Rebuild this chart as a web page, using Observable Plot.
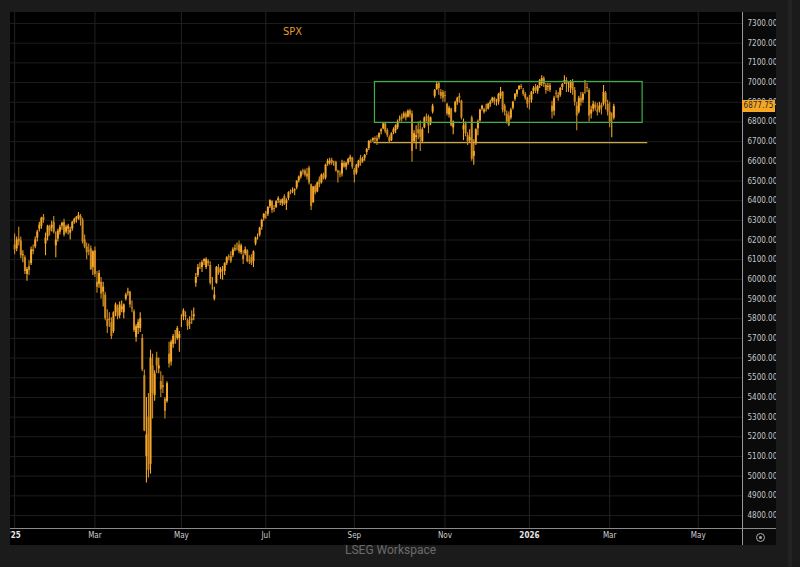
<!DOCTYPE html>
<html>
<head>
<meta charset="utf-8">
<script src="https://cdn.jsdelivr.net/npm/d3@7"></script>
<script src="https://cdn.jsdelivr.net/npm/@observablehq/plot@0.6"></script>
<style>
html,body{margin:0;padding:0;background:#1b1b1b;width:800px;height:567px;overflow:hidden;}
#panel{position:absolute;left:10px;top:12px;width:766px;height:533px;background:#000;overflow:hidden;}
#axiscol{position:absolute;left:732px;top:0;width:34px;height:533px;background:#0a0a0a;}
#chart{position:absolute;left:-10px;top:-12px;width:800px;height:567px;}
#chart svg{max-width:none !important;}
#vline{position:absolute;left:742px;top:12px;width:1px;height:533px;background:#9a9a9a;}
#hline{position:absolute;left:10px;top:528px;width:766px;height:1px;background:#8a8a8a;}
#title{position:absolute;left:283px;top:25px;color:#e59a2e;font:11px "Liberation Sans Narrow","DejaVu Sans Condensed",sans-serif;}
#footer{position:absolute;left:345px;top:543px;color:#6b6b6b;font:12px Roboto,"Open Sans",sans-serif;}
#price{position:absolute;left:742px;width:33px;height:12px;background:#f5a623;color:#2a2a2a;font:8px "Liberation Sans Narrow","DejaVu Sans Condensed",sans-serif;line-height:12px;text-align:center;white-space:nowrap;overflow:hidden;}
#icon{position:absolute;left:756px;top:533px;width:7px;height:7px;border:1px solid #aaa;border-radius:50%;}
#icon:after{content:"";position:absolute;left:2px;top:2px;width:3px;height:3px;border-radius:50%;background:#aaa;}
#rstrip{position:absolute;left:788px;top:0;width:4px;height:567px;background:#232323;}
</style>
</head>
<body>
<div id="panel"><div id="axiscol"></div><div id="chart"></div></div>
<div id="vline"></div>
<div id="hline"></div>
<div id="rstrip"></div>
<div id="title">SPX</div>
<div id="footer">LSEG Workspace</div>
<div id="icon"></div>
<script>
// Daily candles, trading-day index 0 = 2 Jan 2025
const open = [
6175,6155,6205,6195,6120,6110,6025,6065,6080,6150,
6165,6210,6255,6270,6315,6180,6215,6265,6260,6290,
6170,6205,6240,6270,6290,6240,6255,6235,6255,6290,
6305,6310,6320,6300,6200,6165,6145,6155,6060,6145,
5985,5975,5985,5935,5920,5795,5800,5780,5735,5830,
5855,5815,5845,5830,5900,5930,5935,5855,5835,5705,
5750,5750,5700,5510,5100,5300,5060,5560,5410,5600,
5545,5480,5460,5390,5380,5620,5580,5670,5720,5700,
5700,5780,5810,5815,5790,5775,5800,5810,5980,6020,
6070,6060,6090,6060,6090,6070,5975,5900,5980,6060,
6035,6050,6040,6080,6115,6115,6120,6150,6160,6175,
6135,6120,6130,6145,6095,6110,6090,6180,6215,6225,
6265,6310,6330,6330,6370,6395,6360,6365,6400,6390,
6385,6420,6385,6410,6445,6445,6450,6465,6500,6520,
6550,6550,6535,6565,6480,6390,6470,6445,6505,6490,
6530,6515,6585,6590,6605,6590,6595,6550,6535,6535,
6590,6570,6590,6610,6615,6555,6540,6575,6615,6600,
6615,6645,6665,6700,6705,6715,6715,6720,6750,6765,
6790,6755,6720,6705,6745,6755,6770,6810,6825,6825,
6840,6825,6855,6840,6700,6720,6760,6760,6700,6770,
6825,6825,6790,6850,6930,6965,6995,6950,6950,6935,
6890,6835,6865,6770,6850,6900,6930,6905,6760,6790,
6730,6705,6820,6625,6690,6765,6805,6865,6850,6870,
6865,6890,6905,6920,6900,6900,6930,6950,6880,6840,
6830,6820,6870,6915,6940,6965,6980,6960,6940,6920,
6905,6910,6955,6975,6955,6985,6995,7020,6985,6975,
6985,6880,6855,6945,6935,6935,6975,7000,7010,6980,
6970,7005,6960,6880,6850,6920,6910,6960,6975,6960,
6840,6865,6885,6860,6860,6885,6890,6945,6890,6850,
6790,6820];
const high = [
6230,6215,6265,6215,6145,6120,6060,6095,6165,6175,
6215,6250,6290,6315,6330,6235,6275,6275,6295,6320,
6240,6255,6275,6290,6305,6275,6280,6265,6295,6310,
6320,6340,6330,6310,6225,6185,6180,6170,6145,6165,
6040,6045,6010,5985,5935,5845,5830,5805,5835,5880,
5870,5885,5890,5875,5930,5955,5940,5890,5845,5770,
5795,5830,5720,5540,5400,5420,5640,5620,5535,5630,
5600,5530,5510,5400,5480,5680,5690,5720,5740,5760,
5735,5820,5850,5835,5800,5810,5840,5855,6030,6075,
6085,6095,6105,6110,6100,6090,6010,5960,6065,6075,
6060,6065,6085,6115,6125,6140,6160,6175,6185,6195,
6180,6145,6165,6150,6120,6125,6145,6215,6230,6265,
6305,6335,6345,6370,6405,6400,6375,6400,6420,6405,
6410,6430,6410,6445,6455,6465,6460,6500,6525,6550,
6560,6560,6565,6575,6485,6470,6480,6495,6520,6535,
6540,6585,6610,6615,6615,6600,6600,6555,6550,6605,
6600,6595,6615,6630,6620,6565,6585,6605,6630,6620,
6635,6665,6705,6710,6720,6725,6730,6745,6765,6795,
6795,6765,6730,6745,6770,6785,6810,6830,6840,6850,
6850,6860,6865,6855,6755,6780,6800,6805,6770,6825,
6840,6835,6825,6890,6965,7005,7000,6965,6960,6955,
6895,6880,6870,6805,6905,6925,6945,6910,6815,6800,
6745,6760,6830,6710,6765,6810,6865,6885,6870,6890,
6895,6910,6925,6925,6915,6945,6975,6955,6890,6855,
6850,6870,6905,6945,6965,6985,6990,6970,6950,6925,
6935,6955,6980,6990,6985,7015,7035,7030,6995,6995,
6995,6905,6930,6960,6950,6975,6995,7035,7025,7000,
7010,7015,6975,6900,6930,6950,6950,7010,6995,6970,
6880,6905,6900,6895,6900,6895,6985,6955,6910,6900,
6845,6890];
const low = [
6125,6140,6170,6105,6085,6025,5990,6020,6070,6125,
6155,6190,6240,6255,6285,6120,6195,6220,6240,6230,
6110,6190,6225,6250,6215,6230,6225,6200,6245,6280,
6285,6300,6270,6180,6155,6100,6120,6045,6020,6010,
5930,5955,5900,5860,5790,5725,5755,5695,5725,5810,
5795,5800,5830,5800,5890,5915,5855,5830,5730,5680,
5720,5730,5530,5225,4965,4990,5010,5290,5380,5520,
5520,5400,5420,5290,5370,5550,5560,5650,5670,5690,
5630,5755,5790,5790,5740,5745,5770,5790,5960,6010,
6050,6035,6070,6050,6065,5970,5945,5890,5975,6020,
6000,5995,6020,6070,6095,6080,6110,6140,6145,6130,
6125,6075,6120,6085,6075,6070,6060,6170,6200,6215,
6250,6295,6305,6320,6360,6335,6340,6360,6385,6375,
6370,6375,6350,6400,6430,6435,6425,6455,6490,6510,
6530,6520,6505,6480,6350,6385,6430,6440,6465,6485,
6505,6505,6575,6580,6580,6575,6545,6490,6515,6520,
6565,6555,6580,6595,6560,6490,6530,6565,6575,6590,
6600,6630,6655,6690,6695,6695,6680,6710,6735,6760,
6740,6720,6690,6700,6735,6740,6760,6800,6800,6815,
6805,6820,6820,6595,6690,6660,6710,6650,6690,6765,
6800,6740,6780,6840,6920,6960,6935,6915,6900,6900,
6830,6820,6775,6735,6845,6885,6895,6810,6705,6725,
6680,6690,6600,6580,6680,6730,6800,6855,6840,6850,
6860,6875,6895,6885,6880,6885,6915,6845,6830,6790,
6775,6810,6860,6905,6925,6960,6965,6930,6910,6870,
6860,6895,6940,6945,6940,6970,6980,6975,6940,6955,
6950,6815,6830,6920,6905,6925,6960,6990,6950,6950,
6945,6935,6880,6755,6840,6880,6895,6940,6950,6800,
6815,6850,6855,6830,6845,6835,6880,6860,6830,6770,
6720,6810];
const close = [
6150,6200,6190,6120,6125,6040,6050,6045,6150,6140,
6200,6240,6275,6310,6300,6210,6270,6245,6275,6240,
6200,6245,6265,6285,6225,6265,6270,6250,6290,6305,
6315,6325,6300,6190,6165,6135,6140,6050,6140,6025,
5960,6030,5925,5960,5800,5760,5790,5710,5830,5870,
5810,5870,5860,5870,5920,5935,5870,5850,5740,5760,
5780,5800,5540,5230,5210,5030,5600,5420,5520,5560,
5560,5440,5450,5330,5470,5570,5680,5710,5720,5750,
5720,5780,5840,5810,5760,5780,5790,5820,6010,6060,
6070,6085,6100,6100,6080,5980,5975,5920,6060,6030,
6050,6050,6080,6110,6110,6090,6150,6155,6160,6140,
6170,6100,6150,6090,6090,6080,6140,6210,6215,6260,
6300,6330,6330,6365,6400,6350,6355,6395,6410,6395,
6405,6380,6400,6440,6440,6450,6455,6500,6520,6545,
6545,6530,6520,6490,6370,6470,6440,6490,6480,6530,
6510,6580,6600,6600,6590,6590,6550,6540,6530,6590,
6570,6590,6610,6620,6570,6530,6580,6600,6590,6610,
6630,6660,6700,6700,6715,6710,6700,6740,6760,6790,
6750,6730,6700,6740,6760,6780,6800,6815,6815,6840,
6820,6855,6835,6650,6740,6730,6740,6720,6760,6820,
6820,6780,6820,6880,6960,6990,6970,6930,6920,6930,
6840,6870,6780,6800,6900,6920,6920,6820,6780,6740,
6700,6720,6610,6650,6760,6800,6860,6880,6860,6870,
6890,6900,6920,6900,6900,6940,6950,6860,6850,6800,
6780,6860,6900,6940,6960,6980,6975,6940,6920,6890,
6900,6950,6970,6960,6980,7010,7020,6990,6960,6980,
6960,6850,6920,6940,6920,6970,6990,7010,6990,6980,
7000,6960,6900,6830,6920,6900,6940,6960,6970,6830,
6860,6890,6870,6850,6880,6870,6950,6900,6850,6800,
6790,6877.75];

// x-axis ticks (trading-day index of first session of each month) and labels
const tickIdx = [0, 39, 81, 122, 165, 209, 250, 289, 332];
const tickLabels = ["'25", "Mar", "May", "Jul", "Sep", "Nov", "2026", "Mar", "May"];
const yearLabels = ["'25", "2026"];
// y-axis tick values
const yTicks = [4800,4900,5000,5100,5200,5300,5400,5500,5600,5700,5800,5900,6000,
                6100,6200,6300,6400,6500,6600,6700,6800,6900,7000,7100,7200,7300];
// annotations: consolidation box and support level
const boxStart = [175], boxEnd = [305], boxLow = [6795], boxHigh = [7003];
const levelValue = [6695], levelStart = [174.5], levelEnd = [307.5];
// scale extents
const xDomain = [-2, 353.5];
const yDomain = [4734, 7356];

const candles = close.map((c, i) => ({i, open: open[i], high: high[i], low: low[i], close: c}));
const ups = candles.filter(d => d.close >= d.open);
const downs = candles.filter(d => d.close < d.open);
const ticks = tickIdx.map((t, k) => ({i: t, label: tickLabels[k]}));
const boxes = boxStart.map((s, k) => ({start: s, end: boxEnd[k], low: boxLow[k], high: boxHigh[k]}));
const levels = levelValue.map((v, k) => ({level: v, start: levelStart[k], end: levelEnd[k]}));

const UP = "#f7a82a", DOWN = "#d08c22";
const FONT = "'Liberation Sans Narrow','DejaVu Sans Condensed',sans-serif";

const chart = Plot.plot({
  width: 800, height: 567,
  marginLeft: 10, marginRight: 58, marginTop: 12, marginBottom: 39,
  style: {background: "transparent", overflow: "visible", fontFamily: FONT, maxWidth: "none"},
  x: {type: "linear", domain: xDomain, axis: null},
  y: {domain: yDomain, axis: null},
  marks: [
    Plot.gridY(yTicks, {stroke: "#1c1c1c", strokeOpacity: 1}),
    Plot.gridX(tickIdx, {stroke: "#222", strokeOpacity: 1}),
    Plot.ruleY(levels, {y: "level", x1: "start", x2: "end", stroke: "#c9a648", strokeWidth: 1.2}),
    Plot.ruleX(ups, {x: "i", y1: "low", y2: "high", stroke: UP, strokeWidth: 1.1}),
    Plot.ruleX(downs, {x: "i", y1: "low", y2: "high", stroke: DOWN, strokeWidth: 1.1}),
    Plot.ruleX(ups, {x: "i", y1: "open", y2: "close", stroke: UP, strokeWidth: 2}),
    Plot.ruleX(downs, {x: "i", y1: "open", y2: "close", stroke: DOWN, strokeWidth: 2}),
    Plot.rect(boxes, {x1: "start", x2: "end", y1: "low", y2: "high", fill: "none", stroke: "#3fae49", strokeWidth: 1.2}),
    Plot.axisY(yTicks, {anchor: "right", tickSize: 0, tickPadding: 5, tickFormat: d => d.toFixed(2),
      fill: "#c8c8c8", fontSize: 8, label: null}),
    Plot.text(ticks.filter(d => !yearLabels.includes(d.label)), {x: "i", text: "label", frameAnchor: "bottom", dy: 9,
      fill: "#cfcfcf", fontSize: 8}),
    Plot.text(ticks.filter(d => yearLabels.includes(d.label)), {x: "i", text: "label", frameAnchor: "bottom", dy: 9,
      fill: "#e6e6e6", fontSize: 8, fontWeight: "bold"})
  ]
});
document.getElementById("chart").appendChild(chart);

const last = close[close.length - 1];
const py = chart.scale("y").apply(last);
const lab = document.createElement("div");
lab.id = "price";
lab.textContent = last.toFixed(2);
lab.style.top = (py - 6) + "px";
document.body.appendChild(lab);
</script>
</body>
</html>
